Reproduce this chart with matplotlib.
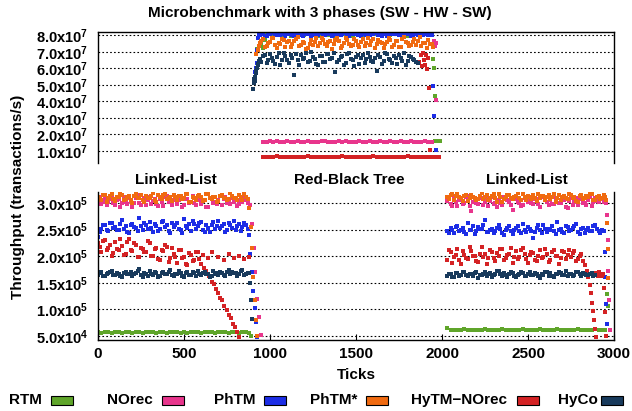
import numpy as np
import matplotlib.pyplot as plt
from matplotlib.patches import Rectangle
from matplotlib.ticker import FuncFormatter
from matplotlib.transforms import blended_transform_factory

plt.rcParams['font.family'] = ['Liberation Sans', 'DejaVu Sans']
plt.rcParams['font.weight'] = 'bold'
plt.rcParams['axes.labelweight'] = 'bold'
plt.rcParams['font.size'] = 11
plt.rcParams['mathtext.fontset'] = 'custom'
plt.rcParams['mathtext.bf'] = 'Liberation Sans:bold'
plt.rcParams['mathtext.rm'] = 'Liberation Sans:bold'
plt.rcParams['mathtext.default'] = 'bf'

K = 1e3   # linked-list phases are read in thousands of tx/s
M = 1e6   # red-black tree phase is read in millions of tx/s

names = ['RTM', 'NOrec', 'PhTM', 'PhTM*', 'HyTM\u2212NOrec', 'HyCo']
colors = ['#5fa52a', '#e8358c', '#1c2de6', '#f06a10', '#d42224', '#183a5c']

# phase starts (ticks); dense bands sampled every 10 ticks, thin lines every 20
ll1_start, rb_start, ll2_start = 0, 940, 2030

# ---- RTM ----
rtm_ll1 = [57, 56, 58, 57, 56, 57, 58, 56, 57, 57,
           56, 58, 57, 56, 57, 58, 57, 56, 57, 58,
           56, 57, 57, 58, 56, 57, 56, 58, 57, 57,
           56, 57, 58, 57, 56, 57, 57, 58, 56, 57,
           57, 56, 58, 57, 56]
rtm_ll1_end_x = [889]
rtm_ll1_end_y = [49]
rtm_rb_start_x = [925, 935, 950, 960, 970]
rtm_rb_start_y = [71.5, 73.8, 75.0, 72.6, 77.1]
rtm_rb = [74.0, 77.5, 80.4, 80.9, 79.8, 81.3, 80.5, 80.1, 81.0, 79.6,
          80.7, 81.4, 80.2, 79.9, 80.8, 81.1, 80.3, 79.7, 80.6, 81.2,
          80.0, 80.9, 79.5, 80.4, 81.3, 80.7, 80.1, 79.8, 81.0, 80.5,
          80.2, 81.4, 79.9, 80.6, 80.8, 80.3, 81.1, 79.7, 80.4, 80.9,
          80.6, 81.2, 80.0, 79.8, 80.7, 81.3, 80.1, 80.5, 80.9, 80.2]
rtm_rb_end_x = [1935, 1944, 1950, 1952, 1959, 1962, 1968, 1974, 1980, 1986]
rtm_rb_end_y = [80.6, 80.1, 65.9, 59.9, 43.2, 16.0, 16.2, 15.9, 16.1, 16.0]
rtm_ll2 = [64, 61, 60, 61, 60, 62, 61, 60, 61, 60,
           61, 62, 60, 61, 61, 60, 62, 61, 60, 61,
           61, 60, 62, 61, 60, 61, 61, 62, 60, 61,
           60, 61, 62, 61, 60, 61, 61, 60, 62, 61,
           60, 61, 61, 62, 60, 61, 60]
rtm_ll2_end_x = [2962, 2966]
rtm_ll2_end_y = [128, 106]

# ---- NOrec ----
norec_ll1 = [305, 311, 298, 303, 310, 296, 302, 308, 314, 300,
             296, 306, 307, 293, 300, 312, 303, 298, 309, 304,
             293, 301, 309, 315, 301, 297, 306, 310, 297, 305,
             311, 299, 304, 308, 299, 294, 308, 302, 295, 311,
             313, 303, 302, 297, 306, 310, 298, 305, 310, 292,
             296, 307, 307, 300, 303, 313, 301, 296, 311, 306,
             299, 304, 305, 293, 292, 309, 309, 301, 302, 298,
             306, 313, 297, 307, 312, 300, 304, 299, 310, 303,
             308, 295, 298, 304, 303, 309, 306, 301]
norec_ll1_end_x = [885, 895, 905, 915, 925, 935, 945]
norec_ll1_end_y = [296, 260, 215, 170, 120, 85, 52]
norec_rb = [15.6, 15.4, 15.8, 15.5, 15.7, 15.3, 15.6, 15.9, 15.5, 15.4,
            15.7, 15.6, 15.2, 15.8, 15.5, 15.6, 15.4, 15.7, 15.9, 15.5,
            15.3, 15.6, 15.8, 15.4, 15.7, 15.5, 15.6, 15.2, 15.8, 15.6,
            15.5, 15.7, 15.4, 15.6, 15.9, 15.5, 15.3, 15.7, 15.6, 15.4,
            15.8, 15.5, 15.6, 15.7, 15.4, 15.6, 15.5, 15.8, 15.6, 15.5]
norec_rb_end_x = [1955, 1960, 1964, 1968]
norec_rb_end_y = [76.4, 73.8, 75.1, 41.0]
norec_ll2 = [304, 309, 299, 295, 310, 302, 295, 306, 307, 298,
             301, 311, 313, 294, 286, 303, 305, 300, 298, 310,
             309, 297, 302, 307, 294, 304, 311, 299, 300, 292,
             306, 301, 297, 312, 312, 305, 303, 296, 288, 308,
             308, 302, 301, 295, 296, 310, 310, 303, 304, 300,
             299, 307, 307, 298, 293, 311, 311, 305, 302, 296,
             305, 299, 298, 310, 309, 301, 300, 306, 306, 293,
             291, 304, 312, 297, 303, 309, 297, 307, 308, 301,
             301, 296, 305, 311, 295, 302, 310, 304, 302, 307,
             307, 303]
norec_ll2_end_x = [2950, 2955, 2960, 2964, 2967, 2970, 2974]
norec_ll2_end_y = [306, 300, 278, 230, 172, 118, 60]

# ---- PhTM ----
phtm_ll1 = [236, 245, 252, 258, 259, 250, 247, 262, 263, 254,
            255, 249, 250, 261, 268, 252, 257, 246, 244, 259,
            261, 255, 253, 248, 272, 257, 249, 263, 258, 251,
            264, 253, 246, 260, 256, 248, 251, 265, 266, 255,
            259, 247, 243, 262, 255, 258, 262, 251, 250, 244,
            270, 256, 254, 261, 248, 266, 260, 252, 257, 263,
            265, 250, 246, 258, 253, 245, 259, 264, 251, 256,
            267, 253, 256, 261, 245, 249, 262, 258, 254, 266,
            249, 257, 260, 247, 255, 262, 258, 251]
phtm_ll1_end_x = [878, 886, 894, 902, 910, 918, 926]
phtm_ll1_end_y = [240, 205, 170, 135, 102, 75, 48]
phtm_rb_start_x = [906, 910, 914, 918, 922, 926, 930, 934]
phtm_rb_start_y = [52.4, 54.8, 57.5, 59.9, 63.1, 71.0, 78.5, 80.2]
phtm_rb = [80.3, 81.0, 81.2, 79.8, 79.6, 80.5, 80.8, 81.6, 81.5, 80.2,
           80.1, 80.7, 79.9, 81.3, 81.0, 79.5, 80.6, 80.9, 81.7, 80.4,
           79.4, 80.8, 80.9, 81.4, 80.2, 79.7, 81.3, 80.6, 80.7, 81.1,
           79.8, 80.3, 81.1, 79.6, 80.4, 81.2, 81.6, 80.5, 80.0, 80.9,
           80.8, 81.3, 79.7, 80.1, 81.4, 80.6, 80.5, 79.9, 80.9, 81.5,
           81.2, 80.2, 79.5, 80.7, 80.6, 81.0, 81.0, 80.3, 80.3, 79.8,
           81.5, 80.8, 80.1, 79.6, 79.9, 81.3, 80.7, 81.1, 81.3, 80.4,
           80.2, 79.7, 80.8, 81.2, 79.6, 80.0, 81.1, 80.6, 80.5, 81.4,
           80.9, 80.3, 81.4, 79.8, 80.0, 80.8, 80.6, 81.2, 79.8, 80.1,
           81.2, 80.5, 80.4, 81.0, 80.7, 79.9, 81.0, 80.6, 80.3, 80.8]
phtm_rb_end_x = [1942, 1950, 1954, 1968]
phtm_rb_end_y = [79.9, 49.2, 31.0, 10.6]
phtm_ll2 = [248, 244, 253, 250, 243, 255, 257, 247, 250, 253,
            246, 241, 262, 250, 249, 256, 241, 247, 255, 252,
            251, 258, 268, 246, 245, 250, 252, 244, 247, 254,
            259, 251, 244, 240, 250, 253, 256, 247, 242, 249,
            253, 257, 248, 243, 261, 250, 246, 255, 251, 248,
            234, 245, 254, 259, 249, 244, 258, 251, 245, 252,
            250, 256, 247, 242, 264, 249, 252, 245, 243, 257,
            255, 248, 249, 253, 257, 260, 246, 241, 251, 254,
            244, 250, 253, 247, 248, 256, 259, 252, 247, 243,
            250, 248]
phtm_ll2_end_x = [2945, 2950, 2955, 2958]
phtm_ll2_end_y = [207, 160, 110, 72]

# ---- PhTM* ----
phtms_ll1 = [312, 308, 306, 316, 315, 303, 309, 313, 318, 307,
             304, 311, 311, 317, 316, 306, 308, 312, 313, 305,
             301, 314, 317, 309, 310, 315, 306, 302, 314, 310,
             309, 313, 319, 305, 303, 316, 312, 308, 315, 318,
             307, 310, 311, 304, 316, 312, 305, 314, 313, 307,
             310, 317, 318, 303, 302, 311, 309, 306, 314, 315,
             311, 304, 306, 318, 317, 309, 308, 312, 312, 303,
             304, 314, 315, 310, 310, 305, 307, 319, 313, 309,
             309, 306, 316, 312, 305, 317, 311, 308]
phtms_ll1_end_x = [880, 888, 895, 902, 910, 918, 926]
phtms_ll1_end_y = [290, 255, 215, 160, 118, 80, 50]
phtms_rb_start_x = [920, 928, 935]
phtms_rb_start_y = [68.5, 71.2, 73.8]
phtms_rb = [75.2, 76.8, 77.8, 73.0, 73.4, 75.6, 76.1, 78.2, 78.6, 74.1,
            72.5, 75.3, 74.9, 77.6, 77.0, 72.9, 75.8, 76.4, 73.1, 74.7,
            76.7, 77.9, 78.9, 73.5, 74.2, 76.2, 75.5, 71.9, 72.1, 75.0,
            77.4, 74.4, 76.0, 78.5, 73.8, 75.1, 78.2, 77.2, 74.6, 73.3,
            75.9, 76.6, 71.7, 74.8, 77.1, 78.1, 76.4, 72.6, 73.5, 75.4,
            78.4, 76.9, 75.0, 73.7, 74.3, 77.5, 76.8, 74.0, 72.8, 75.7,
            77.6, 73.4, 75.3, 78.6, 73.9, 76.3, 78.0, 72.2, 74.7, 77.0,
            76.2, 75.2, 72.4, 74.5, 75.7, 78.3, 77.3, 73.0, 74.0, 76.6,
            76.5, 72.7, 73.2, 77.8, 78.7, 75.9, 75.1, 73.6, 74.4, 76.1,
            77.9, 74.2, 76.3, 78.8, 73.6, 75.5, 75.4, 72.3, 76.9, 74.8]
phtms_rb_end_x = [1942, 1948]
phtms_rb_end_y = [74.5, 72.9]
phtms_ll2 = [311, 308, 315, 318, 306, 313, 318, 311, 309, 304,
             313, 316, 304, 309, 316, 312, 310, 306, 308, 314,
             319, 307, 312, 315, 305, 310, 314, 318, 309, 303,
             317, 312, 303, 307, 311, 316, 315, 309, 307, 311,
             313, 319, 310, 305, 318, 312, 306, 314, 312, 308,
             316, 310, 304, 317, 309, 313, 314, 306, 311, 316,
             307, 312, 317, 303, 310, 315, 305, 311, 313, 309,
             308, 318, 316, 310, 312, 304, 303, 314, 315, 307,
             309, 313, 311, 317, 318, 305, 306, 312, 313, 308,
             310, 315]
phtms_ll2_end_x = [2950, 2955, 2960, 2964, 2968]
phtms_ll2_end_y = [312, 305, 262, 214, 158]

# ---- HyTM-NOrec ----
hytm_ll1 = [224, 218, 208, 229, 231, 212, 215, 222, 200, 206,
            226, 214, 212, 233, 219, 203, 204, 227, 233, 211,
            210, 224, 221, 199, 198, 216, 214, 208, 207, 229,
            225, 201, 201, 213, 216, 194, 192, 211, 209, 222,
            218, 189, 196, 215, 205, 199, 188, 212, 211, 197,
            199, 186, 184, 206, 203, 190, 193, 208, 207, 195]
hytm_ll1_end_x = [600, 615, 630, 645, 660, 672, 685, 698, 710, 722,
                  735, 748, 760, 772, 785, 798, 810, 822,
                  610, 640, 665, 700, 730, 760, 790, 820, 850, 875]
hytm_ll1_end_y = [186, 178, 172, 163, 152, 147, 138, 130, 121, 117,
                  106, 99, 90, 84, 73, 66, 57, 48,
                  203, 196, 208, 199, 192, 205, 197, 201, 194, 199]
hytm_rb = [6.4, 6.5, 6.3, 6.4, 6.6, 6.4, 6.3, 6.5, 6.4, 6.4,
           6.5, 6.3, 6.4, 6.6, 6.4, 6.5, 6.3, 6.4, 6.5, 6.4,
           6.3, 6.5, 6.4, 6.6, 6.4, 6.3, 6.5, 6.4, 6.4, 6.5,
           6.3, 6.4, 6.6, 6.4, 6.5, 6.3, 6.4, 6.5, 6.4, 6.3,
           6.5, 6.4, 6.6, 6.4, 6.3, 6.5, 6.4, 6.4, 6.5, 6.3,
           6.4, 6.5]
hytm_rb_end_x = [1868, 1876, 1882, 1888, 1894, 1900, 1906, 1912, 1918, 1924, 1930]
hytm_rb_end_y = [64.1, 67.8, 61.5, 69.2, 65.0, 62.3, 68.1, 59.4, 66.5, 48.2, 10.6]
hytm_ll2 = [192, 211, 207, 188, 198, 203, 214, 193, 186, 209,
            203, 196, 195, 218, 210, 201, 200, 190, 189, 205,
            217, 199, 204, 186, 196, 212, 208, 197, 191, 206,
            201, 214, 213, 193, 197, 202, 205, 216, 187, 198,
            209, 195, 199, 211, 215, 204, 194, 187, 202, 208,
            206, 192, 190, 200, 211, 197, 198, 213, 204, 189,
            193, 207, 212, 201, 200, 185, 196, 209, 208, 194,
            203, 212, 199, 206, 210, 191, 195, 200, 204]
hytm_ll2_end_x = [2822, 2832, 2842, 2850, 2858, 2865, 2872, 2878, 2885, 2892, 2898,
                  2885, 2895, 2905, 2912, 2920, 2928, 2935, 2940, 2946, 2952]
hytm_ll2_end_y = [190, 183, 172, 160, 146, 130, 112, 96, 80, 62, 48,
                  164, 168, 162, 170, 166, 163, 167, 140, 95, 50]

# ---- HyCo ----
hyco_ll1 = [165, 168, 170, 163, 162, 167, 168, 171, 173, 165,
            164, 169, 167, 162, 160, 168, 171, 166, 166, 170,
            163, 167, 169, 172, 175, 164, 161, 168, 167, 163,
            172, 166, 165, 170, 168, 161, 162, 169, 170, 166,
            166, 171, 174, 165, 163, 167, 167, 173, 169, 162,
            161, 168, 171, 164, 165, 170, 168, 163, 173, 167,
            164, 169, 170, 166, 166, 161, 162, 172, 167, 168,
            165, 171, 169, 164, 163, 170, 174, 166, 171, 168,
            168, 163, 166, 172, 174, 165, 167, 169]
hyco_ll1_end_x = [878, 884, 889, 894]
hyco_ll1_end_y = [168, 150, 118, 82]
hyco_rb_start_x = [902, 905, 908, 911, 914, 917, 920, 924, 928, 932, 936]
hyco_rb_start_y = [47.5, 51.0, 53.5, 52.2, 55.0, 57.1, 58.6, 60.2, 61.9, 62.8, 64.4]
hyco_rb = [65.8, 63.9, 67.4, 68.2, 63.2, 65.1, 68.9, 66.3, 64.5, 62.7,
           66.7, 69.1, 62.1, 64.8, 69.3, 67.6, 65.0, 63.3, 67.9, 66.1,
           56.2, 68.4, 64.8, 61.9, 68.1, 65.7, 66.3, 69.5, 63.7, 64.2,
           69.6, 66.8, 65.5, 62.4, 61.8, 67.3, 67.2, 63.6, 64.1, 68.8,
           68.5, 65.4, 66.0, 69.0, 57.6, 64.0, 65.2, 67.0, 67.7, 62.3,
           63.4, 68.6, 69.0, 65.9, 64.9, 61.5, 66.6, 68.0, 62.6, 66.5,
           68.3, 63.1, 65.7, 69.4, 67.0, 64.4, 63.9, 66.2, 58.4, 67.8,
           66.9, 62.8, 64.3, 69.2, 68.7, 65.6, 65.1, 63.5, 67.5, 66.4,
           62.9, 68.1, 66.4, 64.7, 69.2, 62.0, 64.6, 67.3, 67.1, 65.8,
           65.3, 63.8, 63.0]
hyco_ll2 = [163, 166, 167, 161, 160, 168, 169, 163, 165, 170,
            171, 164, 162, 167, 166, 163, 168, 171, 159, 165,
            164, 167, 170, 162, 166, 169, 161, 164, 167, 172,
            172, 166, 163, 168, 165, 160, 166, 170, 169, 163,
            160, 165, 166, 171, 168, 163, 162, 167, 171, 164,
            164, 169, 167, 162, 158, 166, 165, 170, 170, 163,
            168, 162, 161, 166, 166, 170, 169, 164, 164, 172,
            162, 167, 167, 163, 165, 170, 170, 166, 163, 168,
            166, 165, 164, 167, 168, 163, 165]


def run(start, vals, step=10):
    return start + step * np.arange(len(vals))


def series(pieces):
    xs = [np.asarray(x, float) for x, y, u in pieces]
    ys = [np.asarray(y, float) * u for x, y, u in pieces]
    return np.concatenate(xs), np.concatenate(ys)


all_series = [
    series([(run(ll1_start, rtm_ll1, 20), rtm_ll1, K), (rtm_ll1_end_x, rtm_ll1_end_y, K),
            (rtm_rb_start_x, rtm_rb_start_y, M), (run(rb_start, rtm_rb, 20), rtm_rb, M),
            (rtm_rb_end_x, rtm_rb_end_y, M),
            (run(ll2_start, rtm_ll2, 20), rtm_ll2, K), (rtm_ll2_end_x, rtm_ll2_end_y, K)]),
    series([(run(ll1_start, norec_ll1), norec_ll1, K), (norec_ll1_end_x, norec_ll1_end_y, K),
            (run(960, norec_rb, 20), norec_rb, M), (norec_rb_end_x, norec_rb_end_y, M),
            (run(ll2_start, norec_ll2), norec_ll2, K), (norec_ll2_end_x, norec_ll2_end_y, K)]),
    series([(run(ll1_start, phtm_ll1), phtm_ll1, K), (phtm_ll1_end_x, phtm_ll1_end_y, K),
            (phtm_rb_start_x, phtm_rb_start_y, M), (run(rb_start, phtm_rb), phtm_rb, M),
            (phtm_rb_end_x, phtm_rb_end_y, M),
            (run(ll2_start, phtm_ll2), phtm_ll2, K), (phtm_ll2_end_x, phtm_ll2_end_y, K)]),
    series([(run(ll1_start, phtms_ll1), phtms_ll1, K), (phtms_ll1_end_x, phtms_ll1_end_y, K),
            (phtms_rb_start_x, phtms_rb_start_y, M), (run(rb_start, phtms_rb), phtms_rb, M),
            (phtms_rb_end_x, phtms_rb_end_y, M),
            (run(ll2_start, phtms_ll2), phtms_ll2, K), (phtms_ll2_end_x, phtms_ll2_end_y, K)]),
    series([(run(ll1_start, hytm_ll1), hytm_ll1, K), (hytm_ll1_end_x, hytm_ll1_end_y, K),
            (run(960, hytm_rb, 20), hytm_rb, M), (hytm_rb_end_x, hytm_rb_end_y, M),
            (run(ll2_start, hytm_ll2), hytm_ll2, K), (hytm_ll2_end_x, hytm_ll2_end_y, K)]),
    series([(run(ll1_start, hyco_ll1), hyco_ll1, K), (hyco_ll1_end_x, hyco_ll1_end_y, K),
            (hyco_rb_start_x, hyco_rb_start_y, M), (run(rb_start, hyco_rb), hyco_rb, M),
            (run(ll2_start, hyco_ll2), hyco_ll2, K)]),
]

W, H = 632, 411
fig = plt.figure(figsize=(W / 100, H / 100), dpi=100)
ax_top = fig.add_axes([98 / W, 1 - 163 / H, 516 / W, 131 / H])
ax_bot = fig.add_axes([98 / W, 1 - 340 / H, 516 / W, 148 / H])

for (x, y), c in zip(all_series, colors):
    for ax in (ax_top, ax_bot):
        ax.plot(x, y, linestyle='none', marker='s', markersize=2.3,
                markeredgewidth=0, color=c)


def sci(v, pos):
    e = int(np.floor(np.log10(v)))
    return f'{v / 10 ** e:.1f}x10$^{{{e}}}$'


ax_top.set_ylim(2.6e6, 8.2e7)
ax_top.set_yticks(np.arange(1, 9) * 1e7)
ax_bot.set_ylim(4.2e4, 3.21e5)
ax_bot.set_yticks([5e4, 1e5, 1.5e5, 2e5, 2.5e5, 3e5])

for ax in (ax_top, ax_bot):
    ax.set_xlim(0, 3000)
    ax.yaxis.set_major_formatter(FuncFormatter(sci))
    ax.yaxis.grid(True, color='black', linestyle=(0, (1.5, 2)), linewidth=0.8)
    ax.tick_params(axis='y', length=0, pad=7, labelsize=10.5)
    for s in ax.spines.values():
        s.set_linewidth(1.0)

ax_top.spines['bottom'].set_visible(False)
ax_top.tick_params(axis='x', bottom=False, labelbottom=False)
ax_bot.spines['top'].set_visible(False)
ax_bot.set_xticks(range(0, 3001, 500))
ax_bot.tick_params(axis='x', direction='in', length=4, pad=5)
ax_bot.set_xlabel('Ticks', labelpad=5, fontweight='bold')

fig.text(320 / W, 1 - 13 / H, 'Microbenchmark with 3 phases (SW - HW - SW)',
         ha='center', va='center')
fig.text(18 / W, 1 - 197 / H, 'Throughput (transactions/s)', rotation=90,
         ha='center', va='center')

tr = blended_transform_factory(ax_bot.transData, ax_bot.transAxes)
for xpos, label in [(453, 'Linked-List'), (1459, 'Red-Black Tree'), (2494, 'Linked-List')]:
    ax_bot.text(xpos, 1.08, label, transform=tr, ha='center', va='center')

text_x = [9, 107, 214, 310, 411, 558]
box_x = [51, 162, 264, 366, 517, 601]
ly = 400
for name, c, tx, bx in zip(names, colors, text_x, box_x):
    fig.text(tx / W, 1 - ly / H, name, ha='left', va='center')
    fig.add_artist(Rectangle((bx / W, 1 - (ly + 4.5) / H), 22 / W, 9 / H,
                             transform=fig.transFigure, facecolor=c,
                             edgecolor='black', linewidth=0.8))

fig.savefig('out.png', dpi=100)
